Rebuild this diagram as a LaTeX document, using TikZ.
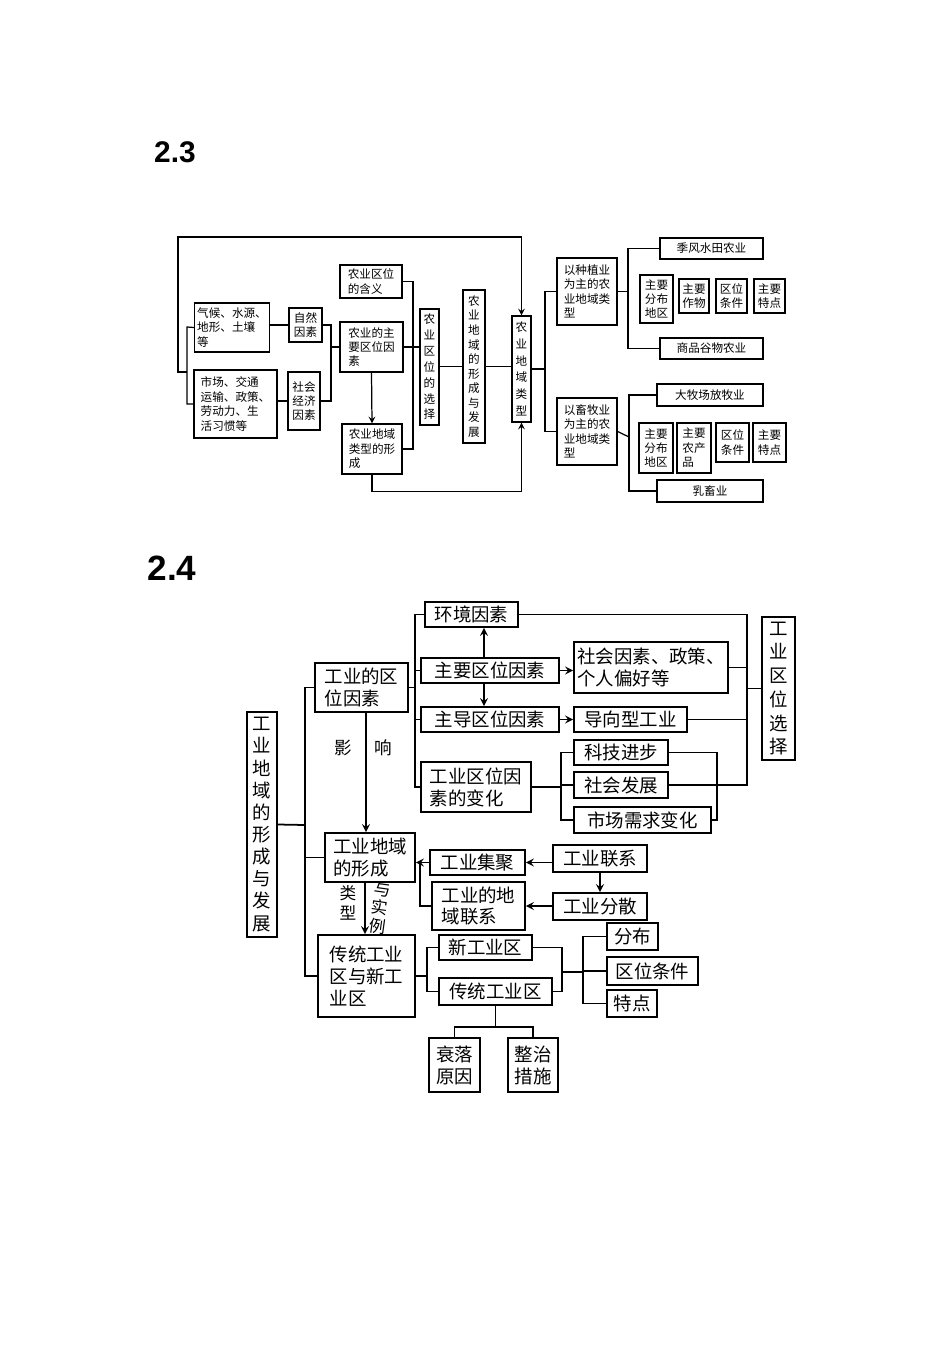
\documentclass[tikz,border=0pt]{standalone}
\usepackage{fontspec}
\setmainfont{Noto Sans CJK SC}
\newfontfamily\titlefont{Liberation Sans}
\usepackage{tikz}
\usetikzlibrary{arrows,shapes,backgrounds}
\tikzstyle{box}=[draw, fill=white, inner sep=0pt, inner xsep=1.5pt, anchor=center]
\tikzstyle{boxsmall}=[box, line width=0.7pt, align=left, font=\fontsize{6.6}{8.2}\selectfont]
\tikzstyle{boxbig}=[box, line width=1pt, align=left, font=\fontsize{10.5}{12.5}\selectfont]
\tikzstyle{line}=[line width=0.7pt]
\tikzstyle{lineb}=[line width=1pt]
\tikzstyle{arr}=[->, >=stealth]
% box from two corners (in pixels of the page)
\newcommand{\bx}[7][]{\node[#1, minimum width={(#5-#3)*0.02cm}, minimum height={(#6-#4)*0.02cm}] (#2) at ({(#3+#5)/2},{(#4+#6)/2}) {#7};}

\begin{document}
\begin{tikzpicture}[x=0.02cm, y=-0.02cm]
	\useasboundingbox[fill=white] (0,0) rectangle (950,1345);

	\node[font=\titlefont\bfseries\fontsize{17}{17}\selectfont] (t23) at (175,152) {2.3};
	\node[font=\titlefont\bfseries\fontsize{20}{20}\selectfont] (t24) at (172,568) {2.4};

	% ---- 2.3
	\bx[boxsmall]{qihou}{197}{303}{267}{352}{气候、水源、\\地形、土壤\\等}
	\bx[boxsmall]{shichang}{194}{370}{277}{438}{市场、交通\\运输、政策、\\劳动力、生\\活习惯等}
	\bx[boxsmall]{ziran}{289}{308}{322}{342}{自然\\因素}
	\bx[boxsmall]{shehui}{288}{372}{320}{430}{社会\\经济\\因素}
	\bx[boxsmall]{hanyi}{340}{265}{402}{298}{农业区位\\的含义}
	\bx[boxsmall]{zhuyao}{340}{322}{403}{372}{农业的主\\要区位因\\素}
	\bx[boxsmall]{xingcheng}{342}{424}{402}{474}{农业地域\\类型的形\\成}
	\bx[boxsmall, align=center, font=\fontsize{6.6}{9}\selectfont]{xuanze}{420}{309}{439}{425}{农\\业\\区\\位\\的\\选\\择}
	\bx[boxsmall, align=center, font=\fontsize{6.6}{8.3}\selectfont]{fazhan}{463}{290}{485}{443}{农\\业\\地\\域\\的\\形\\成\\与\\发\\展}
	\bx[boxsmall, align=center, font=\fontsize{6.6}{9.5}\selectfont]{leixing}{512}{316}{531}{422}{农\\业\\地\\域\\类\\型}
	\bx[boxsmall]{zhongzhi}{557}{258}{617}{325}{以种植业\\为主的农\\业地域类\\型}
	\bx[boxsmall]{xumu}{557}{398}{617}{465}{以畜牧业\\为主的农\\业地域类\\型}
	\bx[boxsmall, align=center]{jifeng}{660}{238}{763}{259}{季风水田农业}
	\bx[boxsmall, align=center]{shangpin}{660}{338}{763}{359}{商品谷物农业}
	\bx[boxsmall]{zaA}{640}{275}{673}{323}{主要\\分布\\地区}
	\bx[boxsmall]{zaB}{679}{279}{709}{313}{主要\\作物}
	\bx[boxsmall]{zaC}{716}{279}{747}{313}{区位\\条件}
	\bx[boxsmall]{zaD}{754}{279}{785}{313}{主要\\特点}
	\bx[boxsmall, align=center]{damu}{657}{384}{763}{406}{大牧场放牧业}
	\bx[boxsmall, align=center]{ruxu}{657}{480}{763}{502}{乳畜业}
	\bx[boxsmall]{zbA}{639}{423}{673}{473}{主要\\分布\\地区}
	\bx[boxsmall]{zbB}{677}{423}{711}{473}{主要\\农产\\品}
	\bx[boxsmall]{zbC}{716}{423}{749}{462}{区位\\条件}
	\bx[boxsmall]{zbD}{753}{423}{786}{462}{主要\\特点}

	\begin{scope}[on background layer, line]
		\foreach \x in {663,694,732,760} \draw (jifeng.south -| \x,0) -- (shangpin.north -| \x,0);
		\foreach \x in {663,697,730,762} \draw (damu.south -| \x,0) -- (ruxu.north -| \x,0);
	\end{scope}

	\draw[line, arr] (187,372) -- (178,372) -- (178,237) -| (leixing.north);
	\draw[line] (qihou.west) -- (187,327) -- (187,404) -- (shichang.west);
	\draw[line] (ziran.west -| qihou.east) -- (ziran.west);
	\draw[line] (shehui.west -| shichang.east) -- (shehui.west);
	\draw[line] (ziran.east) -| (331,347) |- (shehui.east);
	\draw[line] (331,347) -- (zhuyao.west);
	\draw[line] (hanyi.east) -| (413,347) |- (xingcheng.east);
	\draw[line] (zhuyao.east) -- (zhuyao.east -| xuanze.west);
	\draw[line, arr] (zhuyao.south) -- (xingcheng.north);
	\draw[line] (fazhan.west -| xuanze.east) -- (fazhan.west);
	\draw[line] (fazhan.east) -- (fazhan.east -| leixing.west);
	\draw[line, arr] (xingcheng.south) -- ++(0,17) -| (leixing.south);
	\draw[line] (leixing.east) -- (545,369);
	\draw[line] (zhongzhi.west) -| (545,369) |- (xumu.west);
	\draw[line] (zhongzhi.east) -- (628,291.5);
	\draw[line] (jifeng.west) -| (628,291.5) |- (shangpin.west);
	\draw[line] (xumu.east) -- (629,437);
	\draw[line] (damu.west) -| (629,437) |- (ruxu.west);

	% ---- 2.4
	\bx[boxbig, align=center, font=\fontsize{10.5}{12.6}\selectfont]{fazhanB}{247}{712}{277}{937}{工\\业\\地\\域\\的\\形\\成\\与\\发\\展}
	\bx[boxbig]{quwei}{315}{663}{408}{712}{工业的区\\位因素}
	\bx[boxbig]{huanjing}{425}{602}{518}{627}{环境因素}
	\bx[boxbig]{zhuyaoB}{421}{658}{559}{683}{主要区位因素}
	\bx[boxbig]{shehuiyz}{574}{642}{728}{693}{社会因素、政策、\\个人偏好等}
	\bx[boxbig]{zhudao}{421}{707}{559}{732}{主导区位因素}
	\bx[boxbig]{daoxiang}{574}{707}{687}{732}{导向型工业}
	\bx[boxbig]{bianhua}{421}{762}{531}{812}{工业区位因\\素的变化}
	\bx[boxbig]{keji}{574}{740}{668}{765}{科技进步}
	\bx[boxbig]{shfz}{574}{772}{668}{798}{社会发展}
	\bx[boxbig]{xuqiu}{574}{807}{711}{833}{市场需求变化}
	\bx[boxbig, align=center, font=\fontsize{10.5}{13.5}\selectfont]{xuanzeB}{762}{617}{795}{760}{工\\业\\区\\位\\选\\择}
	\bx[boxbig]{diyu}{325}{833}{415}{882}{工业地域\\的形成}
	\bx[boxbig]{jiju}{430}{850}{525}{875}{工业集聚}
	\bx[boxbig]{dylx}{432}{882}{525}{930}{工业的地\\域联系}
	\bx[boxbig]{lianxi}{553}{845}{647}{872}{工业联系}
	\bx[boxbig]{fensan}{553}{893}{647}{920}{工业分散}
	\bx[boxbig]{ctxg}{318}{935}{415}{1017}{传统工业\\区与新工\\业区}
	\bx[boxbig]{xin}{439}{935}{532}{960}{新工业区}
	\bx[boxbig]{ct}{439}{978}{552}{1005}{传统工业区}
	\bx[boxbig]{fenbu}{607}{923}{658}{950}{分布}
	\bx[boxbig]{tiaojian}{607}{957}{698}{985}{区位条件}
	\bx[boxbig]{tedian}{607}{990}{657}{1017}{特点}
	\bx[boxbig]{shuailuo}{429}{1038}{480}{1092}{衰落\\原因}
	\bx[boxbig]{zhengzhi}{508}{1038}{558}{1092}{整治\\措施}

	\node[font=\fontsize{10}{12}\selectfont] (ying) at (343,748) {影};
	\node[font=\fontsize{10}{12}\selectfont] (xiang) at (383,748) {响};
	\node[font=\fontsize{9.5}{11}\selectfont, align=center] (lx) at (348,903) {类\\型};
	\node[font=\fontsize{9.5}{10.5}\selectfont, align=center, rotate=-8] (sl) at (380,908) {与\\实\\例};

	\draw[lineb] (fazhanB.east) -- (305,825);
	\draw[lineb] (quwei.west) -| (305,857.5) |- (ctxg.west);
	\draw[lineb] (diyu.west) -- (305,857.5);
	\draw[lineb] (quwei.east) -- (415,687.5);
	\draw[lineb] (huanjing.west) -| (415,687.5) |- (bianhua.west);
	\draw[lineb] (zhuyaoB.west) -- (415,670.5);
	\draw[lineb] (zhudao.west) -- (415,719.5);
	\draw[lineb, arr] (zhuyaoB.north -| 484,0) -- (huanjing.south -| 484,0);
	\draw[lineb, arr] (zhuyaoB.south -| 484,0) -- (zhudao.north -| 484,0);
	\draw[lineb, arr] (zhuyaoB.east) -- (zhuyaoB.east -| shehuiyz.west);
	\draw[lineb, arr] (zhudao.east) -- (daoxiang.west);
	\draw[lineb] (huanjing.east) -| (747,693) |- (shfz.east);
	\draw[lineb] (shehuiyz.east) -- (747,667.5);
	\draw[lineb] (daoxiang.east) -- (747,719.5);
	\draw[lineb] (747,688.5) -- (xuanzeB.west);
	\draw[lineb] (bianhua.east) -- (561,787);
	\draw[lineb] (keji.west) -| (561,787) |- (xuqiu.west);
	\draw[lineb] (shfz.west) -- (561,785);
	\draw[lineb] (keji.east) -| (717,820) -- (xuqiu.east);
	\draw[lineb, arr] (quwei.south -| 366,0) -- (diyu.north -| 366,0);
	\draw[lineb, arr] (jiju.west) -- (diyu.east |- jiju.west);
	\draw[lineb] (dylx.west) -| (420,862.5);
	\draw[lineb, arr] (lianxi.west |- jiju.east) -- (jiju.east);
	\draw[lineb, arr] (fensan.west |- dylx.east) -- (dylx.east);
	\draw[lineb, arr] (lianxi.south) -- (fensan.north);
	\draw[lineb, arr] (diyu.south -| 365,0) -- (ctxg.north -| 365,0);
	\draw[lineb] (ctxg.east) -- (427,976);
	\draw[lineb] (xin.west) -| (427,976) |- (ct.west);
	\draw[lineb] (xin.east) -| (562,972) |- (ct.east);
	\draw[lineb] (562,972) -- (583,972);
	\draw[lineb] (fenbu.west) -| (583,972) |- (tedian.west);
	\draw[lineb] (tiaojian.west) -- (583,971);
	\draw[lineb] (ct.south) -- (495.5,1027);
	\draw[lineb] (shuailuo.north) |- (495.5,1027) -| (zhengzhi.north);
\end{tikzpicture}
\end{document}
